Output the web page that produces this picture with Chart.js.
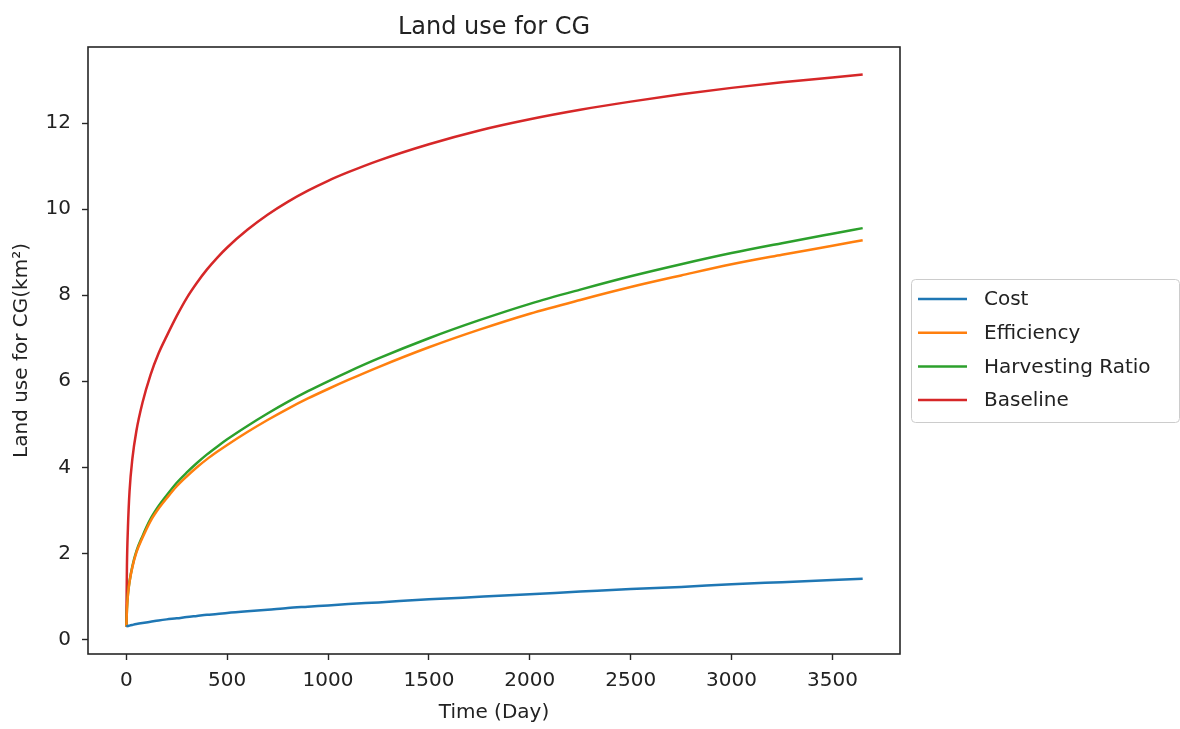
<!DOCTYPE html>
<html>
<head>
<meta charset="utf-8">
<title>Land use for CG</title>
<script src="https://cdn.jsdelivr.net/npm/chart.js@4.4.1/dist/chart.umd.min.js"></script>
<style>
  html, body { margin: 0; padding: 0; background: #fff; }
  #chart { display: block; }
</style>
</head>
<body>
<canvas id="chart" width="1180" height="729"></canvas>
<script>
const chartTitle = 'Land use for CG';
const xAxisTitle = 'Time (Day)';
const yAxisTitle = 'Land use for CG(km²)';

// values
const days = [0, 3, 8, 16, 30, 50, 80, 120, 160, 200, 250, 300, 350, 400, 450, 500, 600, 700, 800, 900, 1000, 1100, 1250, 1500, 1750, 2000, 2250, 2500, 2750, 3000, 3250, 3500, 3650];
const cost = [0.30, 0.305, 0.31, 0.32, 0.335, 0.355, 0.38, 0.41, 0.44, 0.465, 0.49, 0.52, 0.545, 0.57, 0.59, 0.615, 0.655, 0.69, 0.73, 0.76, 0.79, 0.82, 0.86, 0.93, 0.99, 1.05, 1.11, 1.17, 1.22, 1.28, 1.33, 1.38, 1.41];
const efficiency = [0.30, 0.70, 1.04, 1.34, 1.68, 2.02, 2.36, 2.75, 3.04, 3.28, 3.56, 3.79, 4.00, 4.19, 4.36, 4.52, 4.82, 5.10, 5.36, 5.60, 5.82, 6.03, 6.33, 6.79, 7.20, 7.57, 7.89, 8.19, 8.46, 8.72, 8.94, 9.15, 9.28];
const harvestingRatio = [0.30, 0.70, 1.05, 1.35, 1.70, 2.05, 2.40, 2.80, 3.10, 3.35, 3.64, 3.88, 4.10, 4.30, 4.48, 4.65, 4.96, 5.25, 5.52, 5.77, 6.00, 6.22, 6.53, 7.00, 7.42, 7.80, 8.13, 8.44, 8.72, 8.98, 9.21, 9.43, 9.56];
const baseline = [0.30, 1.70, 2.60, 3.45, 4.20, 4.85, 5.50, 6.15, 6.65, 7.05, 7.52, 7.94, 8.29, 8.60, 8.87, 9.11, 9.52, 9.87, 10.17, 10.43, 10.66, 10.86, 11.13, 11.51, 11.83, 12.09, 12.31, 12.50, 12.67, 12.82, 12.95, 13.06, 13.13];

const seriesLabels = ['Cost', 'Efficiency', 'Harvesting Ratio', 'Baseline'];
const seriesColors = ['#1f77b4', '#ff7f0e', '#2ca02c', '#d62728'];

const xTicks = [0, 500, 1000, 1500, 2000, 2500, 3000, 3500];
const yTicks = [0, 2, 4, 6, 8, 10, 12];

const fontFamily = "'DejaVu Sans', sans-serif";
const textColor = '#222';
const axisColor = '#262626';

function toPoints(values) {
    return days.map((d, i) => ({ x: d, y: values[i] }));
}

const seriesValues = [cost, efficiency, harvestingRatio, baseline];

const datasets = seriesValues.map((values, i) => ({
    label: seriesLabels[i],
    data: toPoints(values),
    borderColor: seriesColors[i],
    backgroundColor: seriesColors[i],
    borderWidth: 2.5,
    pointRadius: 0,
    fill: false,
    cubicInterpolationMode: 'monotone'
}));

// frame, title and the boxed legend outside the axes
const decorations = {
    id: 'decorations',
    afterDatasetsDraw(chart) {
        const { ctx, chartArea: a } = chart;
        ctx.save();
        ctx.strokeStyle = axisColor;
        ctx.lineWidth = 1.6;
        ctx.strokeRect(a.left, a.top, a.right - a.left, a.bottom - a.top);
        ctx.restore();
    },
    afterDraw(chart) {
        const { ctx, chartArea: a } = chart;
        ctx.save();

        // title
        ctx.fillStyle = textColor;
        ctx.font = '24px ' + fontFamily;
        ctx.textAlign = 'center';
        ctx.textBaseline = 'alphabetic';
        ctx.fillText(chartTitle, (a.left + a.right) / 2, 34);

        // legend box
        const bx = 911.5, by = 279.5, bw = 268, bh = 143, r = 4;
        ctx.beginPath();
        ctx.moveTo(bx + r, by);
        ctx.lineTo(bx + bw - r, by);
        ctx.quadraticCurveTo(bx + bw, by, bx + bw, by + r);
        ctx.lineTo(bx + bw, by + bh - r);
        ctx.quadraticCurveTo(bx + bw, by + bh, bx + bw - r, by + bh);
        ctx.lineTo(bx + r, by + bh);
        ctx.quadraticCurveTo(bx, by + bh, bx, by + bh - r);
        ctx.lineTo(bx, by + r);
        ctx.quadraticCurveTo(bx, by, bx + r, by);
        ctx.closePath();
        ctx.fillStyle = 'rgba(255,255,255,0.8)';
        ctx.fill();
        ctx.strokeStyle = '#cccccc';
        ctx.lineWidth = 1;
        ctx.stroke();

        ctx.font = '20px ' + fontFamily;
        ctx.textAlign = 'left';
        ctx.textBaseline = 'middle';
        chart.data.datasets.forEach((ds, i) => {
            const y = 299 + i * 33.7;
            ctx.strokeStyle = ds.borderColor;
            ctx.lineWidth = 2.5;
            ctx.beginPath();
            ctx.moveTo(918, y);
            ctx.lineTo(967, y);
            ctx.stroke();
            ctx.fillStyle = textColor;
            ctx.fillText(ds.label, 984, y + 1);
        });

        ctx.restore();
    }
};

const ctx = document.getElementById('chart').getContext('2d');

new Chart(ctx, {
    type: 'line',
    data: { datasets: datasets },
    options: {
        responsive: false,
        animation: false,
        layout: {
            padding: { top: 47, right: 280, left: 0, bottom: 0 }
        },
        plugins: {
            legend: { display: false },
            title: { display: false },
            tooltip: { enabled: false }
        },
        scales: {
            x: {
                type: 'linear',
                min: -190,
                max: 3835,
                afterBuildTicks: function(scale) {
                    scale.ticks = xTicks.map(v => ({ value: v }));
                },
                afterFit: function(scale) {
                    scale.height = 75;
                },
                border: { display: false },
                grid: {
                    drawOnChartArea: false,
                    drawTicks: true,
                    tickLength: 6,
                    tickWidth: 1.4,
                    tickColor: axisColor
                },
                ticks: {
                    padding: 9,
                    color: textColor,
                    autoSkip: false,
                    maxRotation: 0,
                    font: { family: fontFamily, size: 20 },
                    callback: function(value) { return String(value); }
                },
                title: {
                    display: true,
                    text: xAxisTitle,
                    color: textColor,
                    padding: { top: 0, bottom: 4 },
                    font: { family: fontFamily, size: 20 }
                }
            },
            y: {
                type: 'linear',
                min: -0.34,
                max: 13.77,
                afterBuildTicks: function(scale) {
                    scale.ticks = yTicks.map(v => ({ value: v }));
                },
                afterFit: function(scale) {
                    scale.width = 88;
                },
                border: { display: false },
                grid: {
                    drawOnChartArea: false,
                    drawTicks: true,
                    tickLength: 6,
                    tickWidth: 1.4,
                    tickColor: axisColor
                },
                ticks: {
                    padding: 11,
                    color: textColor,
                    autoSkip: false,
                    font: { family: fontFamily, size: 20 },
                    callback: function(value) { return String(value); }
                },
                title: {
                    display: true,
                    text: yAxisTitle,
                    color: textColor,
                    padding: { top: 10, bottom: 0 },
                    font: { family: fontFamily, size: 20 }
                }
            }
        }
    },
    plugins: [decorations]
});
</script>
</body>
</html>
